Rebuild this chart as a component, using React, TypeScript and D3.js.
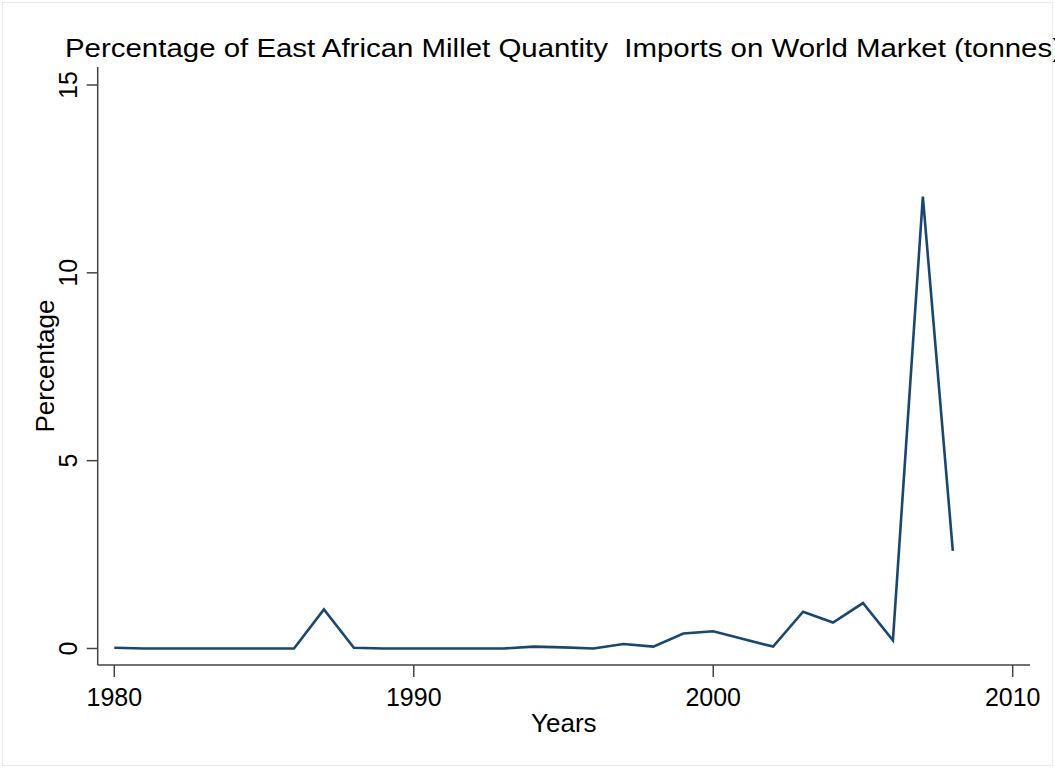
import React from "react";
import * as d3 from "d3";

const years = [1980,1981,1982,1983,1984,1985,1986,1987,1988,1989,1990,1991,1992,1993,1994,1995,1996,1997,1998,1999,2000,2001,2002,2003,2004,2005,2006,2007,2008];
const percentage = [0.02,0,0,0,0,0,0,1.04,0.02,0,0,0,0,0,0.05,0.03,0,0.12,0.05,0.4,0.46,0.25,0.05,0.98,0.69,1.21,0.22,12.03,2.6];
const xTicks = [1980, 1990, 2000, 2010];
const yTicks = [0, 5, 10, 15];
const title = "Percentage of East African Millet Quantity\u00a0 Imports on World Market (tonnes)";

const W = 1055, H = 768;
const font = "'Liberation Sans', Arial, sans-serif";

export default function App() {
  const x = d3.scaleLinear().domain([1980, 2010]).range([114.3, 1012.7]);
  const y = d3.scaleLinear().domain([0, 15]).range([648.5, 85]);
  const plotLeft = 97.7, plotRight = 1030, plotTop = 67, plotBottom = 665;
  const line = d3.line<number>().x((_, i) => x(years[i])).y((d) => y(d));
  const axisColor = "#444";
  return (
    <svg width={W} height={H} style={{ position: "absolute", left: 0, top: 0, background: "#fff" }}>
      <rect x={2.5} y={2.5} width={W - 5} height={H - 5} fill="#fff" stroke="#e6ecf1" strokeWidth={1} />
      <text x={65} y={57} fontFamily={font} fontSize={26} fill="#000" textLength={997} lengthAdjust="spacingAndGlyphs">
        {title}
      </text>
      {/* y axis */}
      <line x1={plotLeft} x2={plotLeft} y1={plotTop} y2={plotBottom} stroke={axisColor} strokeWidth={1.5} />
      {yTicks.map((t) => (
        <g key={t}>
          <line x1={plotLeft - 11} x2={plotLeft} y1={y(t)} y2={y(t)} stroke={axisColor} strokeWidth={1.5} />
          <text transform={`translate(77,${y(t)}) rotate(-90)`} textAnchor="middle" fontFamily={font} fontSize={25} fill="#000">
            {t}
          </text>
        </g>
      ))}
      <text transform={`translate(54,${(plotTop + plotBottom) / 2}) rotate(-90)`} textAnchor="middle" fontFamily={font} fontSize={26} fill="#000">
        Percentage
      </text>
      {/* x axis */}
      <line x1={plotLeft} x2={plotRight} y1={plotBottom} y2={plotBottom} stroke={axisColor} strokeWidth={1.5} />
      {xTicks.map((t) => (
        <g key={t}>
          <line x1={x(t)} x2={x(t)} y1={plotBottom} y2={plotBottom + 12} stroke={axisColor} strokeWidth={1.5} />
          <text x={x(t)} y={706} textAnchor="middle" fontFamily={font} fontSize={25} fill="#000">
            {t}
          </text>
        </g>
      ))}
      <text x={(plotLeft + plotRight) / 2} y={732} textAnchor="middle" fontFamily={font} fontSize={26} fill="#000">
        Years
      </text>
      <path d={line(percentage) || ""} fill="none" stroke="#1a476f" strokeWidth={2.6} strokeLinejoin="miter" />
    </svg>
  );
}
